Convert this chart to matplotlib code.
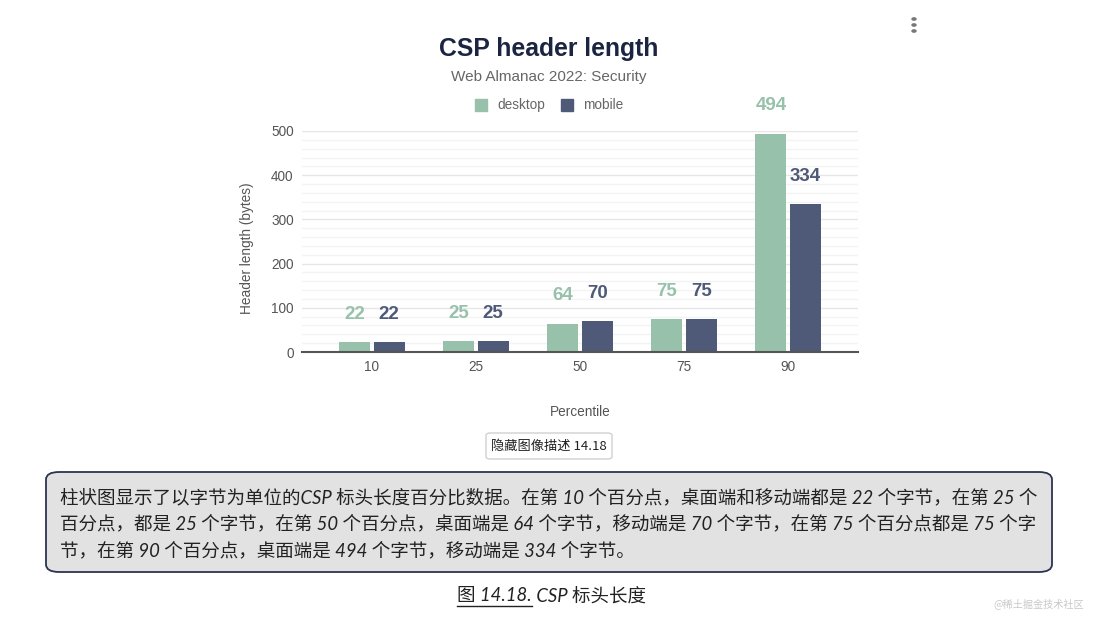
import matplotlib

matplotlib.use("Agg")
import matplotlib.pyplot as plt
import numpy as np
from matplotlib.patches import FancyBboxPatch
from matplotlib.ticker import MultipleLocator

percentiles = ["10", "25", "50", "75", "90"]
desktop = [22, 25, 64, 75, 494]
mobile = [22, 25, 70, 75, 334]

title = "CSP header length"
subtitle = "Web Almanac 2022: Security"
button_text = "隐藏图像描述 14.18"
desc_lines = [
    "柱状图显示了以字节为单位的CSP 标头长度百分比数据。在第 10 个百分点，桌面端和移动端都是 22 个字节，在第 25 个",
    "百分点，都是 25 个字节，在第 50 个百分点，桌面端是 64 个字节，移动端是 70 个字节，在第 75 个百分点都是 75 个字",
    "节，在第 90 个百分点，桌面端是 494 个字节，移动端是 334 个字节。",
]
caption_fig = "图 14.18."
caption_rest = " CSP 标头长度"
watermark = "@稀土掘金技术社区"

C_DESK = "#98c1ab"
C_MOB = "#4e5a78"
SANS = ["Liberation Sans", "DejaVu Sans"]
CJK = ["Lato", "Noto Sans CJK SC", "DejaVu Sans"]

W, H = 1098, 626
fig = plt.figure(figsize=(W / 100, H / 100), dpi=100)


def fx(px):
    return px / W


def fy(py):
    return 1 - py / H


ax = fig.add_axes([fx(302), fy(352), fx(858) - fx(302), fy(131) - fy(352)])
x = np.arange(len(percentiles))
bw = 0.30
off = 0.165
ax.bar(x - off, desktop, bw, color=C_DESK, zorder=3)
ax.bar(x + off, mobile, bw, color=C_MOB, zorder=3)
for xi, d, m in zip(x, desktop, mobile):
    ax.annotate(str(d), (xi - off, d), xytext=(0, 20), textcoords="offset points",
                ha="center", va="center", color=C_DESK, fontsize=13.5,
                fontweight="bold", family=SANS, annotation_clip=False)
    ax.annotate(str(m), (xi + off, m), xytext=(0, 20), textcoords="offset points",
                ha="center", va="center", color=C_MOB, fontsize=13.5,
                fontweight="bold", family=SANS, annotation_clip=False)

ax.set_xlim(-0.673, len(percentiles) - 1 + 0.673)
ax.set_ylim(0, 500)
ax.set_xticks(x)
ax.set_xticklabels(percentiles)
ax.yaxis.set_major_locator(MultipleLocator(100))
ax.yaxis.set_minor_locator(MultipleLocator(20))
ax.grid(axis="y", which="major", color="#e6e6e6", lw=1, zorder=0)
ax.grid(axis="y", which="minor", color="#f3f3f3", lw=1, zorder=0)
for s in ("top", "right", "left"):
    ax.spines[s].set_visible(False)
ax.spines["bottom"].set_color("#555555")
ax.spines["bottom"].set_linewidth(1.5)
ax.spines["bottom"].set_zorder(4)
ax.tick_params(axis="both", which="both", length=0, labelcolor="#555555",
               labelsize=9.8)
ax.tick_params(axis="x", pad=6)
ax.tick_params(axis="y", pad=6)
for lab in ax.get_xticklabels() + ax.get_yticklabels():
    lab.set_family(SANS)
ax.set_xlabel("Percentile", family=SANS, fontsize=9.8, color="#555555", labelpad=22)
ax.set_ylabel("Header length (bytes)", family=SANS, fontsize=9.8, color="#555555")
ax.yaxis.set_label_coords((254 - 302) / 556, 0.47)

fig.text(fx(549), fy(49), title, ha="center", va="center", family=SANS,
         fontsize=17.8, fontweight="bold", color="#1b2541")
fig.text(fx(549), fy(77), subtitle, ha="center", va="center", family=SANS,
         fontsize=11, color="#666666")

# legend
for px, col, lab in ((481, C_DESK, "desktop"), (567, C_MOB, "mobile")):
    fig.patches.append(plt.Rectangle((fx(px - 6), fy(111)), fx(12), fy(99) - fy(111),
                                     transform=fig.transFigure, color=col))
    fig.text(fx(px + 16), fy(105), lab, ha="left", va="center", family=SANS,
             fontsize=9.8, color="#666666")

# menu dots
for py in (19, 25, 31):
    fig.patches.append(plt.Circle((fx(914), fy(py)), 0.0018,
                                  transform=fig.transFigure, color="#777777"))

# button
fig.patches.append(FancyBboxPatch((fx(486), fy(459)), fx(612) - fx(486), fy(433) - fy(459),
                                  boxstyle="round,pad=0,rounding_size=0.004",
                                  transform=fig.transFigure, fc="white",
                                  ec="#d0d0d0", lw=1))
fig.text(fx(549), fy(446), button_text, ha="center", va="center",
         family=["Noto Sans CJK SC", "DejaVu Sans"], fontsize=9.5, color="#222222")

# description box
fig.patches.append(FancyBboxPatch((fx(46), fy(572)), fx(1052) - fx(46), fy(472) - fy(572),
                                  boxstyle="round,pad=0,rounding_size=0.012",
                                  transform=fig.transFigure, fc="#e2e2e2",
                                  ec="#2b3450", lw=1.3))
for i, line in enumerate(desc_lines):
    fig.text(fx(60), fy(497 + 26.5 * i), line, ha="left", va="center", family=CJK,
             style="italic", fontsize=13.35, color="#222222")

# caption
t1 = fig.text(fx(457), fy(596), caption_fig, ha="left", va="center", family=CJK,
              style="italic", fontsize=13.35, color="#222222")
fig.canvas.draw()
bb = t1.get_window_extent()
fig.text(bb.x1 / W, fy(596), caption_rest, ha="left", va="center", family=CJK,
         style="italic", fontsize=13.35, color="#222222")
fig.add_artist(plt.Line2D([bb.x0 / W, bb.x1 / W], [fy(606), fy(606)],
                          transform=fig.transFigure, color="#222222", lw=1))

fig.text(fx(1084), fy(604), watermark, ha="right", va="center",
         family=["Noto Sans CJK SC", "DejaVu Sans"], fontsize=7.3, color="#c8c8c8")

fig.savefig("out.png", dpi=100)
